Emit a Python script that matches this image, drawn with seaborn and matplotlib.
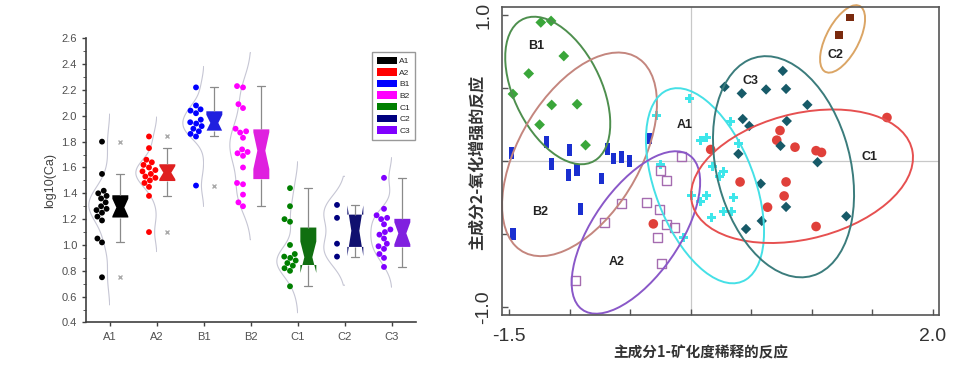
import numpy as np
import pandas as pd
import matplotlib
matplotlib.use("Agg")
import matplotlib.pyplot as plt
import seaborn as sns
from matplotlib.patches import Ellipse, Patch, Rectangle
from matplotlib.markers import MarkerStyle
from matplotlib.ticker import AutoMinorLocator

# ---------------- left panel: log10(Ca) per group ----------------
groups = ["A1", "A2", "B1", "B2", "C1", "C2", "C3"]
ca_A1 = [1.80, 1.55, 1.42, 1.40, 1.38, 1.36, 1.33, 1.30, 1.28, 1.27, 1.25, 1.22, 1.19, 1.05, 1.02, 0.75]
ca_A2 = [1.84, 1.75, 1.66, 1.64, 1.62, 1.60, 1.58, 1.57, 1.55, 1.53, 1.52, 1.50, 1.48, 1.45, 1.38, 1.10]
ca_B1 = [2.22, 2.08, 2.05, 2.04, 2.02, 1.97, 1.95, 1.94, 1.92, 1.90, 1.88, 1.86, 1.84, 1.46]
ca_B2 = [2.23, 2.22, 2.09, 2.06, 1.90, 1.88, 1.87, 1.83, 1.74, 1.72, 1.71, 1.69, 1.60, 1.48, 1.47, 1.39, 1.33, 1.30]
ca_C1 = [1.44, 1.30, 1.20, 1.18, 1.00, 0.93, 0.91, 0.90, 0.88, 0.86, 0.84, 0.82, 0.80, 0.68]
ca_C2 = [1.31, 1.21, 1.01, 0.91]
ca_C3 = [1.52, 1.28, 1.23, 1.21, 1.20, 1.16, 1.12, 1.10, 1.08, 1.05, 1.01, 0.99, 0.97, 0.93, 0.90, 0.83]
ca_values = [ca_A1, ca_A2, ca_B1, ca_B2, ca_C1, ca_C2, ca_C3]

# ---------------- right panel: PCA scores ----------------
b1_pc1 = [-1.24, -1.155, -1.05, -1.34, -1.47, -1.15, -0.94, -1.25, -0.87]
b1_pc2 = [0.95, 0.96, 0.72, 0.60, 0.46, 0.385, 0.39, 0.25, 0.11]
b2_pc1 = [-1.48, -1.19, -1.00, -1.15, -1.01, -0.94, -0.74, -0.69, -0.64, -0.57, -0.51, -0.34, -0.91, -1.47]
b2_pc2 = [0.057, 0.132, 0.075, -0.021, -0.096, -0.062, -0.118, 0.084, 0.018, 0.029, 0.002, 0.155, -0.327, -0.498]
a1_pc1 = [-0.015, -0.28, 0.076, 0.131, 0.324, 0.393, -0.249, 0.181, 0.269, 0.241,
          0.007, 0.131, 0.351, 0.076, 0.173, 0.269, 0.332, -0.062]
a1_pc2 = [0.429, 0.315, 0.144, 0.162, 0.274, 0.121, -0.021, -0.039, -0.073, -0.108,
          -0.233, -0.233, -0.25, -0.279, -0.387, -0.347, -0.346, -0.524]
a2_pc1 = [-0.075, -0.254, -0.199, -0.37, -0.571, -0.26, -0.716, -0.205, -0.131, -0.274, -0.246, -0.955]
a2_pc2 = [0.032, -0.062, -0.13, -0.286, -0.288, -0.332, -0.421, -0.435, -0.453, -0.522, -0.701, -0.815]
c1_pc1 = [1.621, 0.737, 0.71, 0.861, 1.035, 1.08, 0.164, 0.407, 0.787, 0.771, 0.634, 1.035, -0.31]
c1_pc2 = [0.299, 0.21, 0.144, 0.096, 0.072, 0.06, 0.08, -0.142, -0.142, -0.238, -0.315, -0.447, -0.429]
c3_pc1 = [0.76, 0.279, 0.421, 0.622, 0.787, 0.963, 0.429, 0.483, 0.793, 0.741, 0.393, 1.047,
          0.578, 0.787, 1.285, 0.586, 0.456]
c3_pc2 = [0.618, 0.509, 0.464, 0.491, 0.495, 0.386, 0.289, 0.241, 0.275, 0.105, 0.05, -0.007,
          -0.154, -0.313, -0.377, -0.409, -0.464]
c2_pc1 = [1.316, 1.227]
c2_pc2 = [0.984, 0.863]

# group ellipses: centre, half extent in x / y, correlation
ell_groups = ["B1", "B2", "A1", "A2", "C1", "C3", "C2"]
ell_cx = [-1.10, -0.92, 0.117, -0.454, 0.919, 0.766, 1.254]
ell_cy = [0.484, 0.047, -0.168, -0.488, -0.103, -0.038, 0.837]
ell_rx = [0.434, 0.64, 0.488, 0.531, 0.917, 0.583, 0.186]
ell_ry = [0.505, 0.697, 0.668, 0.556, 0.457, 0.757, 0.231]
ell_rho = [-0.45, 0.5, -0.47, 0.62, 0.28, -0.25, 0.6]
label_x = [-1.28, -1.246, -0.05, -0.612, 1.48, 0.489, 1.192]
label_y = [0.79, -0.347, 0.25, -0.69, 0.03, 0.55, 0.726]

left_colors = dict(zip(groups, ["#000000", "#ff0000", "#0000ff", "#ff00ff", "#007f00", "#00007f", "#8000ff"]))
ell_colors = dict(B1="#4e8f4e", B2="#c4867e", A1="#45e0e6", A2="#8a58c8", C1="#e65050", C3="#3b7c7c", C2="#dba565")

sns.set_style("ticks")
plt.rcParams["font.family"] = ["Liberation Sans", "Noto Sans CJK SC", "DejaVu Sans"]
cjk = ["Noto Sans CJK SC", "DejaVu Sans"]

fig = plt.figure(figsize=(9.6, 3.83), dpi=100)
ax1 = fig.add_axes([0.0896, 0.158, 0.3437, 0.742])
ax2 = fig.add_axes([0.523, 0.1775, 0.455, 0.804])

# ---- left panel ----
df = pd.DataFrame({
    "group": np.repeat(groups, [len(v) for v in ca_values]),
    "ca": np.concatenate(ca_values),
})
df["pos"] = df["group"].map({g: i for i, g in enumerate(groups)}).astype(float)
df["swarm_x"] = df["pos"] - 0.17
df["box_x"] = df["pos"] + 0.22

n_coll = len(ax1.collections)
n_line = len(ax1.lines)
sns.violinplot(data=df, x="pos", y="ca", native_scale=True, orient="x", inner=None, fill=False,
               color="#c6c6d4", linewidth=0.8, density_norm="width", width=0.9, cut=2.0,
               bw_adjust=0.8, ax=ax1)
# keep only the left half of each violin
for art in list(ax1.collections)[n_coll:] + list(ax1.lines)[n_line:]:
    if hasattr(art, "get_paths") and len(art.get_paths()):
        xs = art.get_paths()[0].vertices[:, 0]
    else:
        xs = np.asarray(art.get_xdata())
    cx = np.round((np.nanmin(xs) + np.nanmax(xs)) / 2)
    art.set_clip_path(Rectangle((cx - 1, -10), 1 - 0.01, 20, transform=ax1.transData))

sns.boxplot(data=df, x="box_x", y="ca", hue="group", palette=left_colors, native_scale=True, orient="x",
            width=0.34, notch=True, whis=1.5, linecolor="#8a8a8a", linewidth=0.9, fliersize=3,
            flierprops=dict(marker="x", markeredgecolor="#aaaaaa"), boxprops=dict(linewidth=0),
            medianprops=dict(visible=False), legend=False, ax=ax1)
sns.swarmplot(data=df, x="swarm_x", y="ca", hue="group", palette=left_colors, native_scale=True,
              orient="x", size=4.2, legend=False, ax=ax1)

ax1.set_xlim(-0.51, 6.51)
ax1.set_ylim(0.4, 2.6)
ax1.set_xticks(range(len(groups)))
ax1.set_xticklabels(groups)
ax1.set_yticks(np.arange(0.4, 2.61, 0.2))
ax1.set_yticklabels([f"{v:.1f}" for v in np.arange(0.4, 2.61, 0.2)])
ax1.yaxis.set_minor_locator(AutoMinorLocator(2))
ax1.tick_params(axis="both", which="major", labelsize=8, labelcolor="#505050", color="#404040", length=3, width=1)
ax1.tick_params(axis="y", which="minor", length=2, color="#404040")
ax1.set_xlabel("")
ax1.set_ylabel("log10(Ca)", fontsize=9, color="#404040", labelpad=4)
sns.despine(ax=ax1)
for s in ["left", "bottom"]:
    ax1.spines[s].set_color("#404040")
    ax1.spines[s].set_linewidth(1.2)

handles = [Patch(facecolor=left_colors[g], edgecolor="none", label=g) for g in groups]
leg = ax1.legend(handles=handles, loc="upper right", bbox_to_anchor=(0.997, 0.953), borderaxespad=0,
                 fontsize=6, handlelength=2.4, handleheight=1.0, labelspacing=0.36, handletextpad=0.3,
                 borderpad=0.6, fancybox=False, framealpha=1)
leg.get_frame().set_edgecolor("#999999")
leg.get_frame().set_linewidth(1.0)

# ---- right panel ----
ax2.axhline(0, color="#c8c8c8", lw=0.9, zorder=0)
ax2.axvline(0, color="#c8c8c8", lw=0.9, zorder=0)

bar_marker = MarkerStyle([(-0.45, -1), (0.45, -1), (0.45, 1), (-0.45, 1), (-0.45, -1)])
sns.scatterplot(x=b1_pc1, y=b1_pc2, marker="D", color="#3aa63a", edgecolor="none", s=30, ax=ax2)
sns.scatterplot(x=b2_pc1, y=b2_pc2, marker=bar_marker, color="#1a2fd0", edgecolor="none", s=70, ax=ax2)
sns.scatterplot(x=a1_pc1, y=a1_pc2, marker="P", color="#3de6ea", edgecolor="none", s=42, ax=ax2)
sns.scatterplot(x=a2_pc1, y=a2_pc2, marker="s", facecolor="none", edgecolor="#a56cb0", linewidth=1.0, s=42, ax=ax2)
sns.scatterplot(x=c1_pc1, y=c1_pc2, marker="o", color="#e0403a", edgecolor="none", s=48, ax=ax2)
sns.scatterplot(x=c3_pc1, y=c3_pc2, marker="D", color="#175a68", edgecolor="none", s=28, ax=ax2)
sns.scatterplot(x=c2_pc1, y=c2_pc2, marker="s", color="#7a2a0e", edgecolor="none", s=32, ax=ax2)

for g, cx, cy, rx, ry, rho, lx, ly in zip(ell_groups, ell_cx, ell_cy, ell_rx, ell_ry, ell_rho, label_x, label_y):
    cov = np.array([[rx ** 2, rho * rx * ry], [rho * rx * ry, ry ** 2]])
    vals, vecs = np.linalg.eigh(cov)
    angle = np.degrees(np.arctan2(vecs[1, 1], vecs[0, 1]))
    ax2.add_patch(Ellipse((cx, cy), 2 * np.sqrt(vals[1]), 2 * np.sqrt(vals[0]), angle=angle,
                          fill=False, edgecolor=ell_colors[g], lw=1.4, clip_on=False))
    ax2.text(lx, ly, g, ha="center", va="center", fontsize=9, fontweight="bold", color="#222222")

ax2.set_xlim(-1.56, 2.05)
ax2.set_ylim(-1.053, 1.055)
xt = np.arange(-1.5, 2.01, 0.5)
yt = np.arange(-1.0, 1.01, 0.5)
ax2.set_xticks(xt)
ax2.set_xticklabels(["-1.5"] + [""] * (len(xt) - 2) + ["2.0"])
ax2.set_yticks(yt)
ax2.set_yticklabels(["-1.0"] + [""] * (len(yt) - 2) + ["1.0"], rotation=90, va="center")
ax2.tick_params(axis="both", direction="in", length=4, width=1, color="#555555",
                labelsize=14, labelcolor="#333333")
ax2.tick_params(axis="x", pad=9)
ax2.tick_params(axis="y", pad=7)
for s in ax2.spines.values():
    s.set_color("#555555")
    s.set_linewidth(1.2)

fig.text(701 / 960, 1 - 352 / 383, "主成分1-矿化度稀释的反应", ha="center", va="center",
         fontsize=10.5, family=cjk, fontweight="bold", color="#333333")
fig.text(477 / 960, 1 - 162 / 383, "主成分2-氧化增强的反应", ha="center", va="center", rotation=90,
         fontsize=11.5, family=cjk, fontweight="bold", color="#333333")

fig.savefig("out.png", dpi=100, facecolor="white")
